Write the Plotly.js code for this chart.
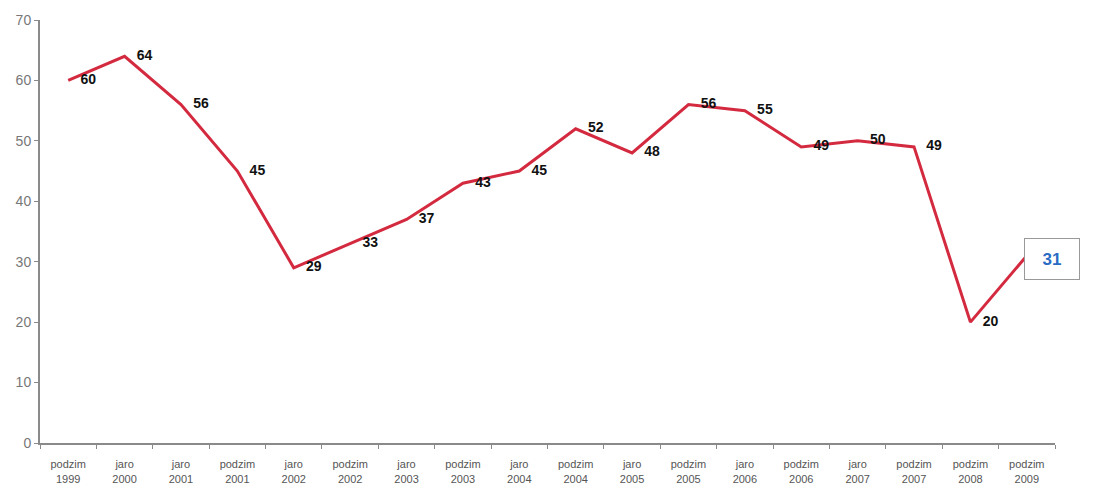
<!DOCTYPE html>
<html>
<head>
<meta charset="utf-8">
<script src="https://cdn.plot.ly/plotly-3.0.1.min.js"></script>
<style>html,body{margin:0;padding:0;background:#fff;}#chart{width:1095px;height:498px;}</style>
</head>
<body>
<div id="chart"></div>
<script>
const categories = ["podzim<br>1999","jaro<br>2000","jaro<br>2001","podzim<br>2001","jaro<br>2002","podzim<br>2002","jaro<br>2003","podzim<br>2003","jaro<br>2004","podzim<br>2004","jaro<br>2005","podzim<br>2005","jaro<br>2006","podzim<br>2006","jaro<br>2007","podzim<br>2007","podzim<br>2008","podzim<br>2009"];
const values = [60,64,56,45,29,33,37,43,45,52,48,56,55,49,50,49,20,31];
const yTicks = [0,10,20,30,40,50,60,70];

const n = values.length;
const labelText = values.map((v,i)=> i===n-1 ? "" : String(v));

const trace = {
  x: categories,
  y: values,
  type: "scatter",
  mode: "lines+markers+text",
  line: {color: "#d42a3f", width: 3},
  marker: {size: 18, color: "rgba(0,0,0,0)"},
  text: labelText,
  textposition: "middle right",
  textfont: {family: "Liberation Sans, Arial, sans-serif", size: 14, color: "#111"},
  texttemplate: "<b>%{text}</b>",
  hoverinfo: "skip",
  cliponaxis: false
};

const layout = {
  width: 1095, height: 498,
  margin: {l: 40, r: 40, t: 20, b: 55},
  paper_bgcolor: "#fff", plot_bgcolor: "#fff",
  showlegend: false,
  font: {family: "Liberation Sans, Arial, sans-serif"},
  xaxis: {
    type: "category",
    range: [-0.5, n - 0.5],
    showgrid: false, zeroline: false,
    showline: true, linecolor: "#8a8a8a", linewidth: 2,
    ticks: "outside", tickson: "boundaries", ticklen: 4, tickcolor: "#8a8a8a",
    tickfont: {size: 11, color: "#555"},
    ticklabelstandoff: 10,
    tickangle: 0
  },
  yaxis: {
    range: [0, 70],
    tickvals: yTicks,
    showgrid: false, zeroline: false,
    showline: true, linecolor: "#8a8a8a", linewidth: 2,
    ticks: "outside", ticklen: 4, tickcolor: "#8a8a8a",
    tickfont: {size: 14, color: "#777"}
  },
  annotations: [{
    x: categories[n-1], y: values[n-1],
    xref: "x", yref: "y",
    text: "<b>" + values[n-1] + "</b>",
    showarrow: false,
    xanchor: "left", yanchor: "middle",
    xshift: -3, yshift: -3,
    width: 50, height: 36,
    bordercolor: "#999", borderwidth: 1, borderpad: 2,
    bgcolor: "#fff",
    font: {size: 17, color: "#2a6bc4", family: "Liberation Sans, Arial, sans-serif"}
  }]
};

Plotly.newPlot("chart", [trace], layout, {displayModeBar: false, staticPlot: true});
</script>
</body>
</html>
